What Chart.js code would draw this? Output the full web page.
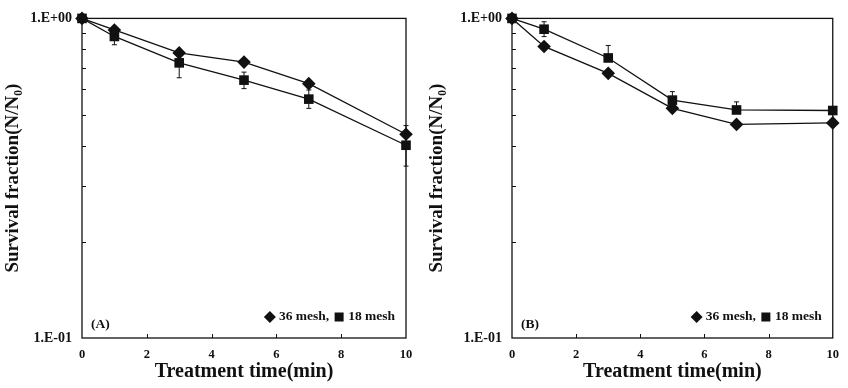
<!DOCTYPE html>
<html>
<head>
<meta charset="utf-8">
<script src="https://cdn.jsdelivr.net/npm/chart.js@4.4.1/dist/chart.umd.min.js"></script>
<style>
    body { margin: 0; background: #fff; }
    #wrap { position: relative; width: 848px; height: 388px; }
    canvas { position: absolute; top: 0; }
</style>
</head>
<body>
<div id="wrap">
    <canvas id="chartA" width="424" height="388" style="left:0px"></canvas>
    <canvas id="chartB" width="424" height="388" style="left:424px"></canvas>
</div>
<script>
// Treatment times (min) and axis ticks
const times = [0, 1, 3, 5, 7, 10];
const xTicks = [0, 2, 4, 6, 8, 10];
const yTicks = [0.1, 0.2, 0.3, 0.4, 0.5, 0.6, 0.7, 0.8, 0.9, 1];
const yTickLabels = { '0.1': '1.E-01', '1': '1.E+00' };

// Panel A
const aMesh36 = [1, 0.92, 0.78, 0.73, 0.625, 0.434];
const aMesh36Hi = [null, null, null, null, null, 0.462];
const aMesh36Lo = [null, null, null, null, null, null];
const aMesh18 = [1, 0.878, 0.726, 0.641, 0.559, 0.401];
const aMesh18Hi = [null, null, null, 0.679, 0.597, null];
const aMesh18Lo = [null, 0.827, 0.652, 0.603, 0.523, 0.345];

// Panel B
const bMesh36 = [1, 0.817, 0.673, 0.523, 0.466, 0.471];
const bMesh36Hi = [null, null, null, null, null, null];
const bMesh36Lo = [null, null, null, null, null, null];
const bMesh18 = [1, 0.925, 0.752, 0.555, 0.517, 0.515];
const bMesh18Hi = [null, 0.976, 0.823, 0.59, 0.548, null];
const bMesh18Lo = [null, 0.877, null, null, null, null];

const SERIF = '"Liberation Serif", "Times New Roman", serif';
const INK = '#111';

// error bars, frame, inward ticks, panel label and legend
const decorPlugin = {
    id: 'decor',
    beforeDatasetsDraw(chart, args, opts) {
        const ctx = chart.ctx;
        const x = chart.scales.x, y = chart.scales.y;
        ctx.save();
        ctx.strokeStyle = INK;
        ctx.lineWidth = 1;
        opts.errors.forEach(err => {
            times.forEach((t, i) => {
                const px = x.getPixelForValue(t);
                const py = y.getPixelForValue(err.values[i]);
                [err.hi[i], err.lo[i]].forEach(v => {
                    if (v == null) return;
                    const pv = y.getPixelForValue(v);
                    ctx.beginPath();
                    ctx.moveTo(px, py);
                    ctx.lineTo(px, pv);
                    ctx.moveTo(px - 2.5, pv);
                    ctx.lineTo(px + 2.5, pv);
                    ctx.stroke();
                });
            });
        });
        ctx.restore();
    },
    afterDraw(chart, args, opts) {
        const ctx = chart.ctx;
        const a = chart.chartArea;
        const x = chart.scales.x, y = chart.scales.y;
        ctx.save();
        ctx.strokeStyle = INK;
        ctx.lineWidth = 1.3;
        ctx.strokeRect(a.left, a.top, a.right - a.left, a.bottom - a.top);
        ctx.lineWidth = 1;
        ctx.beginPath();
        yTicks.forEach(v => {
            if (v === 0.1 || v === 1) return;
            const py = Math.round(y.getPixelForValue(v)) + 0.5;
            ctx.moveTo(a.left, py);
            ctx.lineTo(a.left + 4, py);
        });
        xTicks.forEach(v => {
            if (v === 0 || v === 10) return;
            const px = Math.round(x.getPixelForValue(v)) + 0.5;
            ctx.moveTo(px, a.bottom);
            ctx.lineTo(px, a.bottom - 4);
        });
        ctx.stroke();

        ctx.fillStyle = INK;
        ctx.font = 'bold 13.5px ' + SERIF;
        ctx.textBaseline = 'middle';
        ctx.textAlign = 'left';
        ctx.fillText(opts.panel, a.left + 9, a.bottom - 13);

        // legend, laid out from the right edge
        const ly = a.bottom - 21;
        const t2 = '18 mesh', t1 = '36 mesh,';
        const w2 = ctx.measureText(t2).width;
        const w1 = ctx.measureText(t1).width;
        let cx = a.right - 11 - w2;
        ctx.fillText(t2, cx, ly);
        cx -= 9;
        ctx.fillRect(cx - 4.5, ly - 4.5, 9, 9);
        cx -= 10 + w1;
        ctx.fillText(t1, cx, ly);
        cx -= 9;
        ctx.beginPath();
        ctx.moveTo(cx, ly - 6);
        ctx.lineTo(cx + 6, ly);
        ctx.lineTo(cx, ly + 6);
        ctx.lineTo(cx - 6, ly);
        ctx.closePath();
        ctx.fill();
        ctx.restore();
    }
};

function makePanel(canvasId, panel, mesh36, mesh18, errors, yWidth, padRight) {
    const ctx = document.getElementById(canvasId).getContext('2d');
    return new Chart(ctx, {
        type: 'line',
        data: {
            datasets: [
                {
                    label: '36 mesh',
                    data: times.map((t, i) => ({ x: t, y: mesh36[i] })),
                    borderColor: INK,
                    backgroundColor: INK,
                    borderWidth: 1.3,
                    pointStyle: 'rectRot',
                    pointRadius: 6.8,
                    pointBorderWidth: 0,
                    clip: false
                },
                {
                    label: '18 mesh',
                    data: times.map((t, i) => ({ x: t, y: mesh18[i] })),
                    borderColor: INK,
                    backgroundColor: INK,
                    borderWidth: 1.3,
                    pointStyle: 'rect',
                    pointRadius: 6.8,
                    pointBorderWidth: 0,
                    clip: false
                }
            ]
        },
        options: {
            responsive: false,
            animation: false,
            devicePixelRatio: 1,
            layout: { padding: { top: 15, right: padRight, bottom: 2, left: 0 } },
            plugins: {
                legend: { display: false },
                tooltip: { enabled: false },
                decor: { panel: panel, errors: errors }
            },
            scales: {
                x: {
                    type: 'linear',
                    min: 0,
                    max: 10,
                    afterBuildTicks: s => { s.ticks = xTicks.map(v => ({ value: v })); },
                    afterFit: s => { s.height = 48; },
                    grid: { display: false, drawTicks: false },
                    border: { display: false },
                    ticks: { color: INK, padding: 9, font: { family: SERIF, size: 12.5, weight: 'bold' } },
                    title: {
                        display: true,
                        text: 'Treatment time(min)',
                        color: INK,
                        padding: { top: 0, bottom: 2 },
                        font: { family: SERIF, size: 20, weight: 'bold' }
                    }
                },
                y: {
                    type: 'logarithmic',
                    min: 0.1,
                    max: 1,
                    afterBuildTicks: s => { s.ticks = yTicks.map(v => ({ value: v })); },
                    afterFit: s => { s.width = yWidth; },
                    grid: { display: false, drawTicks: false },
                    border: { display: false },
                    ticks: {
                        autoSkip: false,
                        color: INK,
                        padding: 10,
                        font: { family: SERIF, size: 14, weight: 'bold' },
                        callback: v => yTickLabels[String(Math.round(v * 10) / 10)] || ''
                    },
                    title: {
                        display: true,
                        text: 'Survival fraction(N/N\u2080)',
                        color: INK,
                        padding: { top: 2, bottom: 0 },
                        font: { family: SERIF, size: 19, weight: 'bold' }
                    }
                }
            }
        },
        plugins: [decorPlugin]
    });
}

makePanel('chartA', '(A)', aMesh36, aMesh18, [
    { values: aMesh36, hi: aMesh36Hi, lo: aMesh36Lo },
    { values: aMesh18, hi: aMesh18Hi, lo: aMesh18Lo }
], 82, 18);

makePanel('chartB', '(B)', bMesh36, bMesh18, [
    { values: bMesh36, hi: bMesh36Hi, lo: bMesh36Lo },
    { values: bMesh18, hi: bMesh18Hi, lo: bMesh18Lo }
], 88, 13);
</script>
</body>
</html>
